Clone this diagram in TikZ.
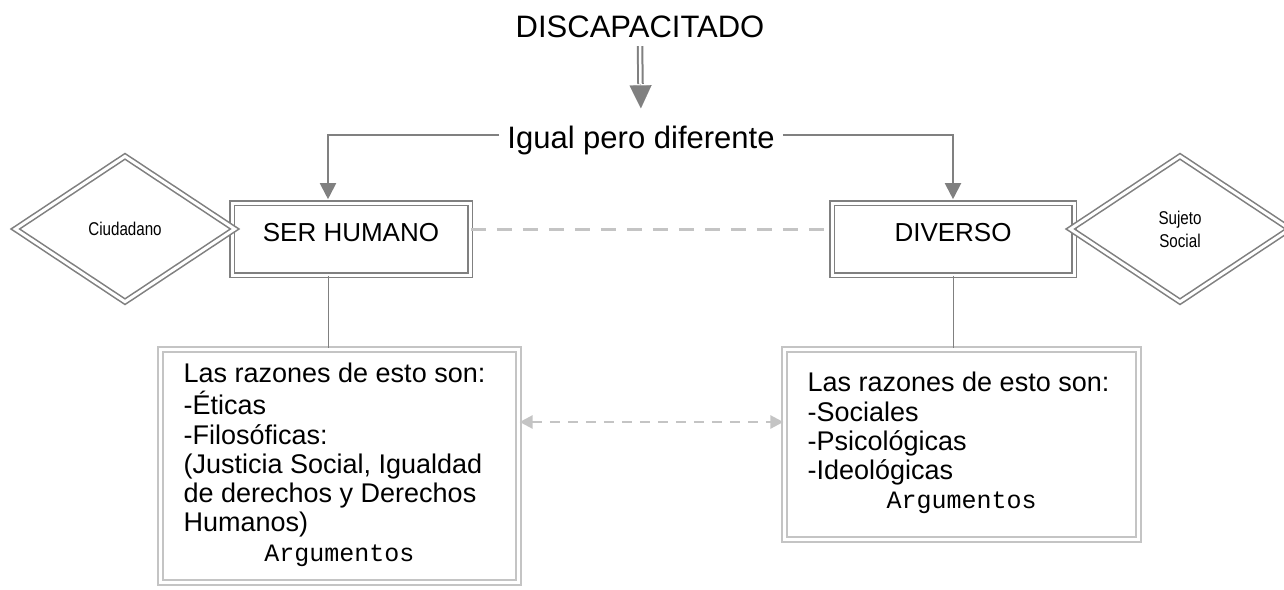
\documentclass[tikz,border=0pt]{standalone}
\usepackage{fontspec}
\setmainfont{Liberation Sans}
\setmonofont{Liberation Mono}
\newfontfamily\narrowsf[FakeStretch=0.82]{Liberation Sans}
\usepackage{xcolor}
\usetikzlibrary{arrows.meta,shapes.geometric,positioning}
\definecolor{darkline}{RGB}{128,128,128}
\definecolor{paleline}{RGB}{196,196,196}

\begin{document}
\begin{tikzpicture}[x=1pt,y=-1pt,
    title/.style={font=\fontsize{31}{37}\selectfont,inner sep=8pt},
    mainbox/.style={rectangle,draw=darkline,line width=1.6pt,double=white,double distance=3pt,
        minimum width=238pt,minimum height=72pt,text height=19pt,text depth=14pt,
        font=\fontsize{26}{31}\selectfont},
    role/.style={diamond,draw=darkline,line width=1.6pt,double=white,double distance=3pt,
        minimum width=220pt,minimum height=146pt,inner sep=0pt,align=center,
        font=\narrowsf\fontsize{18.5}{23}\selectfont},
    reasons/.style={rectangle,draw=paleline,line width=2.2pt,double=white,double distance=2.5pt,
        inner sep=0pt,font=\fontsize{27}{29.3}\selectfont},
    link/.style={draw=darkline,line width=2pt},
    thinlink/.style={draw=darkline,line width=1pt},
    palelink/.style={draw=paleline,line width=3pt,dash pattern=on 15pt off 11pt},
    paledashed/.style={draw=paleline,line width=2.5pt,dash pattern=on 10pt off 8pt},
    dblshaft/.style={draw=darkline,line width=2pt,double=white,double distance=2.5pt}]

    \useasboundingbox (0,0) rectangle (1284,589);

    % Titles
    \node [title] at (640,27) (disc) {DISCAPACITADO};
    \node [title,anchor=base] at (641,148) (igual) {Igual pero diferente};

    % Main boxes and diamonds
    \node [mainbox] at (351,239) (ser) {SER HUMANO};
    \node [mainbox,minimum width=242pt] at (953,239) (div) {DIVERSO};
    \node [role] at (125,229) (ciud) {Ciudadano};
    \node [role] at (1180,229) (suj) {Sujeto\\Social};

    % Reasons
    \node [reasons,minimum width=358pt,minimum height=233pt] at (339.5,466) (why1) {%
        \begin{tabular}{@{}l@{\hspace{10pt}}}
        Las razones de esto son:\\
        -Éticas\\
        -Filosóficas:\\
        (Justicia Social, Igualdad\\
        de derechos y Derechos\\
        Humanos)\\
        \multicolumn{1}{@{}c@{}}{\ttfamily\fontsize{25}{29.3}\selectfont Argumentos}
        \end{tabular}};
    \node [reasons,minimum width=354pt,minimum height=190pt] at (961.5,444.5) (why2) {%
        \begin{tabular}{@{}l@{\hspace{6pt}}}
        Las razones de esto son:\\
        -Sociales\\
        -Psicológicas\\
        -Ideológicas\\
        \multicolumn{1}{@{}c@{}}{\ttfamily\fontsize{25}{29.3}\selectfont Argumentos}
        \end{tabular}};

    \coordinate (shaftend) at (640.5,84);
    \coordinate (serfoot) at ([xshift=-23pt]ser.south);
    \coordinate (arrowrow) at (650,422);

    % Graph edges
    \draw [dblshaft] (disc.south) -- (shaftend);
    \draw [draw=darkline,line width=0.1pt,-{Triangle[length=23pt,width=22pt]},shorten >=9pt]
        (shaftend) -- (igual.north);

    \draw [link,-{Triangle[length=16pt,width=16pt]},shorten >=3pt]
        ([yshift=5pt]igual.west) -| ([xshift=-23pt]ser.north);
    \draw [link,-{Triangle[length=16pt,width=16pt]},shorten >=3pt]
        ([yshift=5pt]igual.east) -| (div.north);

    \draw [palelink] ([yshift=10pt]ser.east) -- ([yshift=10pt]div.west);

    \draw [thinlink] (serfoot) -- (serfoot |- why1.north);
    \draw [thinlink] (div.south) -- (div.south |- why2.north);

    \draw [paledashed,{Triangle[length=13pt,width=13pt]}-{Triangle[length=13pt,width=13pt]}]
        (why1.east |- arrowrow) -- (why2.west |- arrowrow);

\end{tikzpicture}
\end{document}
